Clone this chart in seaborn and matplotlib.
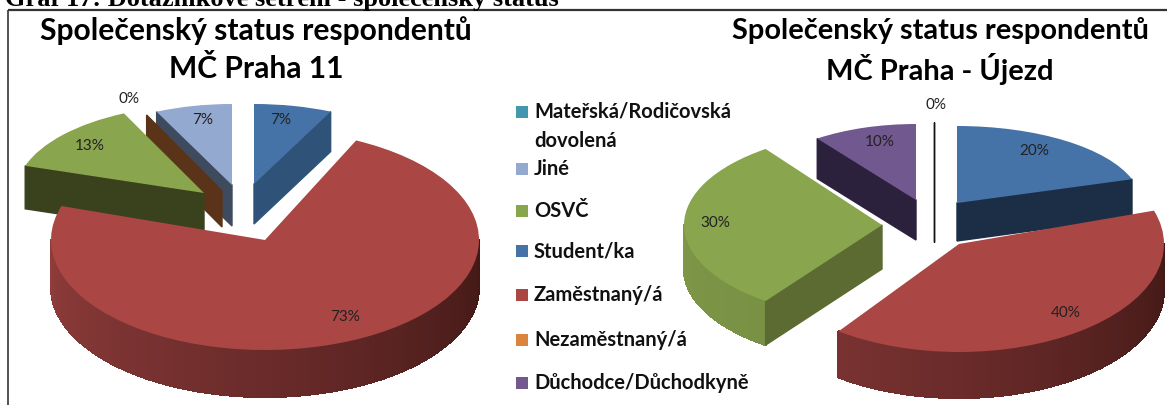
import numpy as np
import matplotlib
matplotlib.use("Agg")
import matplotlib.pyplot as plt
from matplotlib.patches import Polygon, Rectangle
import seaborn as sns

categories = ["Mateřská/Rodičovská\ndovolená", "Jiné", "OSVČ", "Student/ka",
              "Zaměstnaný/á", "Nezaměstnaný/á", "Důchodce/Důchodkyně"]
values_praha11 = [0, 7, 13, 7, 73, 0, 0]
values_ujezd = [0, 0, 30, 20, 40, 0, 10]
title_praha11 = "Společenský status respondentů\nMČ Praha 11"
title_ujezd = "Společenský status respondentů\nMČ Praha - Újezd"
caption = "Graf 17: Dotazníkové šetření - společenský status"

W, H = 1167, 405
sns.set_theme(style="white")
plt.rcParams["font.family"] = ["Lato", "DejaVu Sans"]
fig = plt.figure(figsize=(W / 100, H / 100), dpi=100, facecolor="white")

palette = sns.color_palette(["#4198AF", "#93A9CF", "#89A54E", "#4572A7",
                             "#AA4643", "#DB843D", "#71588F"])
RIM = {4: ["#8F3D3B", "#6A2B2A", "#401815"], 2: ["#7D9647", "#6C853D"]}


def fit(ax, cx, cy, rx, ry):
    ax.set_aspect("auto")
    ax.set_xlim((0 - cx) / rx, (W - cx) / rx)
    ax.set_ylim((cy - H) / ry, cy / ry)
    ax.axis("off")
    ax.patch.set_alpha(0)


def wall(ax, angle, d, color):
    a = np.radians(angle)
    x, y = np.sin(a), np.cos(a)
    ax.add_patch(Polygon([(0, 0), (x, y), (x, y - d), (0, -d)],
                         closed=True, fc=color, ec=color, lw=1.0))


def draw_pie(values, order, layout, start=0.0):
    """Slices run clockwise from 12 o'clock; layout gives each slice's place in pixels."""
    angle = start
    spans = {}
    for i in order:
        spans[i] = (angle, angle + values[i] * 3.6)
        angle = spans[i][1]
    for i, cx, cy, rx, ry, dp, cut in layout:
        a0, a1 = spans[i]
        ax = fig.add_axes([0, 0, 1, 1])
        d = dp / ry
        if values[i] == 0:
            wall(ax, a0, d, cut)
            fit(ax, cx, cy, rx, ry)
            continue
        # front rim, shaded from left to right
        lo, hi = max(a0, 90), min(a1, 270)
        if hi > lo and i in RIM:
            steps = int(hi - lo) * 2 + 1
            shades = sns.blend_palette(RIM[i], 181)
            edges = np.linspace(lo, hi, steps + 1)
            for e0, e1 in zip(edges[:-1], edges[1:]):
                t = np.radians(np.linspace(e0, e1, 3))
                xs, ys = np.sin(t), np.cos(t)
                c = shades[int(round(270 - (e0 + e1) / 2))]
                ax.add_patch(Polygon(np.r_[np.c_[xs, ys], np.c_[xs, ys - d][::-1]],
                                     closed=True, fc=c, ec=c, lw=0.8, antialiased=False))
        # cut faces turned toward the viewer
        if np.sin(np.radians(a0)) < -1e-6:
            wall(ax, a0, d, cut)
        if np.sin(np.radians(a1)) > 1e-6:
            wall(ax, a1, d, cut)
        ax.pie([values[i], 100 - values[i]], colors=[palette[i], "none"],
               startangle=90 - a0, counterclock=False, radius=1,
               wedgeprops={"linewidth": 0}, normalize=True)
        fit(ax, cx, cy, rx, ry)


#          cat   cx   cy   rx   ry  depth cut colour
layout_left = [
    (1, 232, 185, 177, 81, 41, "#3E4A5E"),
    (5, 222, 191, 177, 84, 36, "#5A3318"),
    (2, 204, 193, 188, 88, 43, "#3A421D"),
    (3, 254, 184, 180, 80, 40, "#2F5378"),
    (4, 265, 240, 214, 110, 47, "#6A2B2A"),
]
layout_right = [
    (6, 916, 200, 168, 76, 40, "#2B213D"),
    (5, 934, 202, 168, 80, 40, "#111111"),
    (3, 957, 203, 184, 77, 38, "#1C2E45"),
    (2, 882, 225, 198, 94, 44, "#5B6B32"),
    (4, 959, 244, 205, 108, 46, "#6A2B2A"),
]
draw_pie(values_praha11, [3, 4, 2, 5, 1], layout_left)
draw_pie(values_ujezd, [3, 4, 2, 6, 5], layout_right)

over = fig.add_axes([0, 0, 1, 1])
over.set_xlim(0, W)
over.set_ylim(H, 0)
over.axis("off")
over.patch.set_alpha(0)

# page frame and cut-off caption
over.plot([8, W], [10, 10], color="#333333", lw=1.6, solid_capstyle="butt")
over.plot([8, 8], [10, H], color="#333333", lw=1.2, solid_capstyle="butt")
over.text(5, 6, caption, family="Liberation Serif", weight="bold", fontsize=19,
          color="black", va="baseline", ha="left")

for (x, ttl, fs) in ((256, title_praha11, 21.6), (940, title_ujezd, 20.9)):
    l1, l2 = ttl.split("\n")
    over.text(x, 31, l1, ha="center", va="center", weight="bold", fontsize=fs, color="black")
    over.text(x, 69, l2, ha="center", va="center", weight="bold", fontsize=fs, color="black")

# percentage labels
for val, x, y in [(values_praha11[1], 203, 120), (values_praha11[3], 281, 120),
                  (values_praha11[2], 90, 146), (values_praha11[4], 345, 317),
                  (values_praha11[0], 129, 99),
                  (values_ujezd[6], 880, 142), (values_ujezd[3], 1034, 151),
                  (values_ujezd[2], 715, 223), (values_ujezd[4], 1066, 313),
                  (values_ujezd[0], 936, 105)]:
    over.text(x, y, f"{val}%", ha="center", va="center", fontsize=11, color="#222222")

# legend
legend_y = [112, 169, 211, 251, 295, 340, 383]
for lab, col, y in zip(categories, palette, legend_y):
    over.add_patch(Rectangle((516, y - 6), 12, 12, fc=col, ec="none"))
    over.text(534, y - 10, lab, ha="left", va="top", weight="bold", fontsize=14.5,
              color="#111111", linespacing=1.55)

fig.savefig("out.png", dpi=100)
